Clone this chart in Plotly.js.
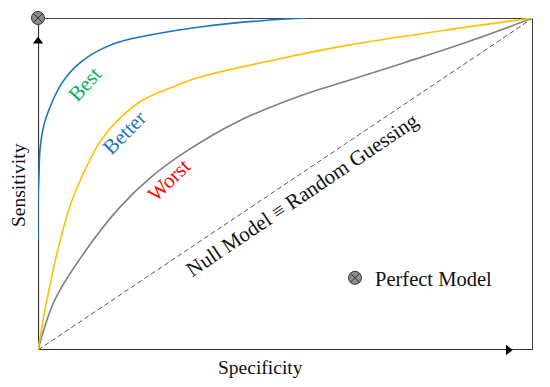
<!DOCTYPE html>
<html><head><meta charset="utf-8">
<script src="https://cdn.plot.ly/plotly-3.0.1.min.js"></script>
<style>html,body{margin:0;padding:0;background:#fff}#chart{width:550px;height:387px}</style>
</head><body><div id="chart"></div>
<script>
// Specificity (x) / Sensitivity (y) values
const bestX   = [0, 0, 0.002, 0.004, 0.012, 0.026, 0.040, 0.057, 0.077, 0.101, 0.125, 0.152, 0.186, 0.226, 0.327, 0.469, 0.543];
const bestY   = [0.331, 0.452, 0.527, 0.602, 0.678, 0.738, 0.783, 0.822, 0.855, 0.883, 0.904, 0.922, 0.937, 0.949, 0.973, 0.994, 1];
const betterX = [0, 0.018, 0.040, 0.069, 0.115, 0.125, 0.166, 0.212, 0.267, 0.327, 0.475, 0.630, 0.812, 1];
const betterY = [0, 0.151, 0.301, 0.452, 0.602, 0.627, 0.699, 0.753, 0.789, 0.822, 0.873, 0.919, 0.961, 1];
const worstX  = [0, 0.034, 0.097, 0.166, 0.226, 0.297, 0.402, 0.529, 0.630, 0.737, 0.873, 1];
const worstY  = [0, 0.151, 0.301, 0.431, 0.518, 0.596, 0.687, 0.765, 0.813, 0.864, 0.931, 1];
const nullX   = [0, 1];
const nullY   = [0, 1];
const perfectX = [0];
const perfectY = [1];
const labels = ["Best", "Better", "Worst", "Null Model ≡ Random Guessing"];
const xTitle = "Specificity";
const yTitle = "Sensitivity";
const legendName = "Perfect Model";

const F = "Liberation Serif";
const sp = {shape: "spline", smoothing: 1, width: 1.6};
const traces = [
  {x: nullX, y: nullY, mode: "lines", line: {color: "#555", width: 1, dash: "5px,3px"}, showlegend: false},
  {x: worstX, y: worstY, mode: "lines", line: Object.assign({color: "#808080"}, sp), showlegend: false},
  {x: betterX, y: betterY, mode: "lines", line: Object.assign({color: "#FFC000"}, sp), showlegend: false},
  {x: bestX, y: bestY, mode: "lines", line: Object.assign({color: "#1F74BC"}, sp), showlegend: false},
  {x: [0], y: [0.93], mode: "markers", marker: {symbol: "triangle-up", size: 9, color: "#000"}, showlegend: false, cliponaxis: false},
  {x: [0.95], y: [0], mode: "markers", marker: {symbol: "triangle-right", size: 9, color: "#000"}, showlegend: false, cliponaxis: false},
  {x: perfectX, y: perfectY, mode: "markers", name: legendName, cliponaxis: false,
   marker: {symbol: "circle-x", size: 13, color: "#8c8c8c", line: {color: "#333", width: 1}}}
];

function px(x) { return (x - 38) / 495; }
function py(y) { return (350 - y) / 332; }

const layout = {
  width: 550, height: 387,
  margin: {l: 38, r: 17, t: 18, b: 37},
  paper_bgcolor: "#fff", plot_bgcolor: "#fff",
  xaxis: {range: [0, 1], showgrid: false, zeroline: false, showticklabels: false, showline: false, ticks: ""},
  yaxis: {range: [0, 1], showgrid: false, zeroline: false, showticklabels: false, showline: false, ticks: ""},
  showlegend: true,
  legend: {x: 0.6, y: 0.217, xanchor: "left", yanchor: "middle", bgcolor: "rgba(0,0,0,0)",
           font: {family: F, size: 20.5, color: "#111"}},
  shapes: [
    {type: "line", xref: "x", yref: "y", x0: 0, y0: 1, x1: 1, y1: 1, line: {color: "#000", width: 1.5}, layer: "below"},
    {type: "line", xref: "x", yref: "y", x0: 1, y0: 0, x1: 1, y1: 1, line: {color: "#000", width: 1.5}, layer: "below"},
    {type: "line", xref: "x", yref: "y", x0: 0, y0: 0, x1: 0, y1: 1, line: {color: "#333", width: 2.2}, layer: "below"},
    {type: "line", xref: "x", yref: "y", x0: 0, y0: 0, x1: 1, y1: 0, line: {color: "#333", width: 2.2}, layer: "below"}
  ],
  annotations: [
    {text: labels[0], x: px(85), y: py(84), textangle: -48, font: {family: F, size: 21, color: "#00B050"}},
    {text: labels[1], x: px(124), y: py(133), textangle: -45, font: {family: F, size: 21, color: "#1F74BC"}},
    {text: labels[2], x: px(169), y: py(180), textangle: -44, font: {family: F, size: 21, color: "#FF0000"}},
    {text: labels[3], x: px(302), y: py(195), textangle: -34, font: {family: F, size: 21, color: "#111"}},
    {text: xTitle, x: px(260), y: py(367), font: {family: F, size: 19.5, color: "#111"}},
    {text: yTitle, x: px(18), y: py(185), textangle: -90, font: {family: F, size: 19.5, color: "#111"}}
  ].map(a => Object.assign({xref: "paper", yref: "paper", showarrow: false, xanchor: "center", yanchor: "middle"}, a))
};
Plotly.newPlot("chart", traces, layout, {displayModeBar: false, staticPlot: true});
</script></body></html>
